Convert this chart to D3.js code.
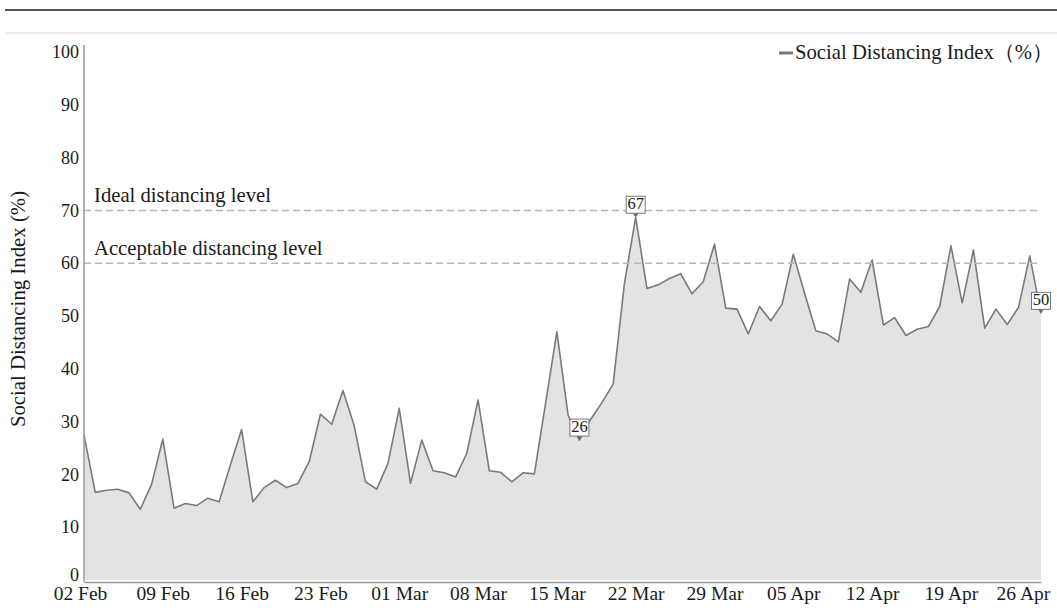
<!DOCTYPE html>
<html>
<head>
<meta charset="utf-8">
<script src="https://cdn.jsdelivr.net/npm/d3@7"></script>
<style>
  body { margin: 0; background: #fff; }
  svg { display: block; }
  text { font-family: "Liberation Serif", "DejaVu Serif", serif; fill: #1a1a1a; }
</style>
</head>
<body>
<div id="chart"></div>
<script>
// daily Social Distancing Index (%), starting 02 Feb 2020
const startDate = "2020-02-02";
const sdi = [
  27.5, 16.6, 17.0, 17.2, 16.5, 13.4, 18.1, 26.7, 13.6, 14.5,
  14.1, 15.5, 14.8, 21.8, 28.5, 14.8, 17.5, 18.9, 17.5, 18.3,
  22.4, 31.4, 29.5, 35.9, 29.2, 18.6, 17.2, 22.1, 32.5, 18.3,
  26.5, 20.7, 20.3, 19.5, 24.0, 34.1, 20.7, 20.4, 18.6, 20.3,
  20.1, 33.5, 47.0, 31.2, 26.5, 30.4, 33.6, 37.1, 56.2, 68.7,
  55.2, 55.9, 57.1, 58.0, 54.2, 56.5, 63.6, 51.5, 51.3, 46.6,
  51.8, 49.1, 52.2, 61.7, 54.3, 47.2, 46.6, 45.1, 57.0, 54.5,
  60.6, 48.3, 49.7, 46.3, 47.5, 48.0, 51.8, 63.3, 52.5, 62.5,
  47.7, 51.3, 48.4, 51.6, 61.4, 50.5
];
const tickLabels = ["02 Feb", "09 Feb", "16 Feb", "23 Feb", "01 Mar", "08 Mar", "15 Mar",
  "22 Mar", "29 Mar", "05 Apr", "12 Apr", "19 Apr", "26 Apr"];
const yTicks = [0, 10, 20, 30, 40, 50, 60, 70, 80, 90, 100];
const refLevels = [70, 60];
const refLabels = ["Ideal distancing level", "Acceptable distancing level"];
const calloutDays = [44, 49, 85];
const calloutTexts = ["26", "67", "50"];
const seriesName = "Social Distancing Index（%）";
const yTitle = "Social Distancing Index (%)";

const width = 1057, height = 608;
const margin = { top: 52, left: 84, bottom: 28, right: 16 };

const parse = d3.timeParse("%Y-%m-%d");
const fmt = d3.timeFormat("%d %b");
const day0 = parse(startDate);
const data = sdi.map((v, i) => ({ date: d3.timeDay.offset(day0, i), value: v }));

const svg = d3.select("#chart").append("svg")
  .attr("width", width).attr("height", height);

// frame lines at the top
svg.append("line").attr("x1", 5).attr("x2", width).attr("y1", 10).attr("y2", 10)
  .attr("stroke", "#555").attr("stroke-width", 2);
svg.append("line").attr("x1", 5).attr("x2", width).attr("y1", 33).attr("y2", 33)
  .attr("stroke", "#ddd").attr("stroke-width", 1);

const x = d3.scaleTime()
  .domain(d3.extent(data, d => d.date))
  .range([margin.left, 1041]);

const y = d3.scaleLinear()
  .domain([0, 100])
  .range([580, margin.top]);

// area + line
const area = d3.area().x(d => x(d.date)).y0(y(0)).y1(d => y(d.value));
const line = d3.line().x(d => x(d.date)).y(d => y(d.value));

svg.append("path").datum(data).attr("d", area).attr("fill", "#e3e3e3");
svg.append("path").datum(data).attr("d", line)
  .attr("fill", "none").attr("stroke", "#7a7a7a").attr("stroke-width", 1.6)
  .attr("stroke-linejoin", "round");

// reference levels
refLevels.forEach((lv, i) => {
  svg.append("line")
    .attr("x1", x.range()[0]).attr("x2", x.range()[1])
    .attr("y1", y(lv)).attr("y2", y(lv))
    .attr("stroke", "#b8b8b8").attr("stroke-width", 1.5)
    .attr("stroke-dasharray", "7,4");
  svg.append("text")
    .attr("x", 94).attr("y", y(lv) - 8)
    .attr("font-size", 20.7)
    .text(refLabels[i]);
});

// y axis
const yAxis = svg.append("g")
  .attr("transform", `translate(${margin.left},0)`)
  .call(d3.axisLeft(y).tickValues(yTicks).tickSize(0).tickPadding(5));
yAxis.select(".domain").attr("stroke", "#999").attr("stroke-width", 1.5)
  .attr("d", `M0,45V582`);
yAxis.selectAll("text").attr("font-size", 18).attr("font-family", null).attr("fill", "#1a1a1a");
yAxis.selectAll(".tick text").filter(d => d === 0).attr("dy", "0.0em");

// x axis
const xAxis = svg.append("g")
  .attr("transform", `translate(0,582)`)
  .call(d3.axisBottom(x)
    .ticks(d3.timeWeek.every(1))
    .tickFormat(d => tickLabels.includes(fmt(d)) ? fmt(d) : "")
    .tickSize(0).tickPadding(4));
xAxis.select(".domain").attr("stroke", "#999").attr("stroke-width", 1.5);
xAxis.selectAll("text").attr("font-size", 19.5).attr("font-family", null).attr("fill", "#1a1a1a")
  .attr("dy", "0.72em");
const xt = xAxis.selectAll(".tick text");
xt.filter((d, i) => i === 0).attr("dx", -4);
xt.filter((d, i, n) => i === n.length - 1).attr("text-anchor", "end").attr("dx", 20);

// y title
svg.append("text")
  .attr("transform", "translate(25,309) rotate(-90)")
  .attr("text-anchor", "middle")
  .attr("font-size", 20.8)
  .text(yTitle);

// legend
svg.append("line").attr("x1", 779).attr("x2", 793).attr("y1", 53).attr("y2", 53)
  .attr("stroke", "#777").attr("stroke-width", 3);
svg.append("text").attr("x", 795).attr("y", 59).attr("font-size", 20.7).text(seriesName);

// callouts
calloutDays.forEach((dIdx, i) => {
  const d = data[dIdx];
  const px = x(d.date), py = y(d.value);
  const g = svg.append("g").attr("transform", `translate(${px},${py})`);
  const bw = 19, bh = 17;
  g.append("path").attr("d", "M-3,-4L0,0L3,-4Z").attr("fill", "#666");
  g.append("rect").attr("x", -bw / 2).attr("y", -bh - 4).attr("width", bw).attr("height", bh)
    .attr("fill", "#fff").attr("stroke", "#777").attr("stroke-width", 1);
  g.append("text").attr("x", 0).attr("y", -8).attr("text-anchor", "middle")
    .attr("font-size", 16.5).text(calloutTexts[i]);
});
</script>
</body>
</html>
